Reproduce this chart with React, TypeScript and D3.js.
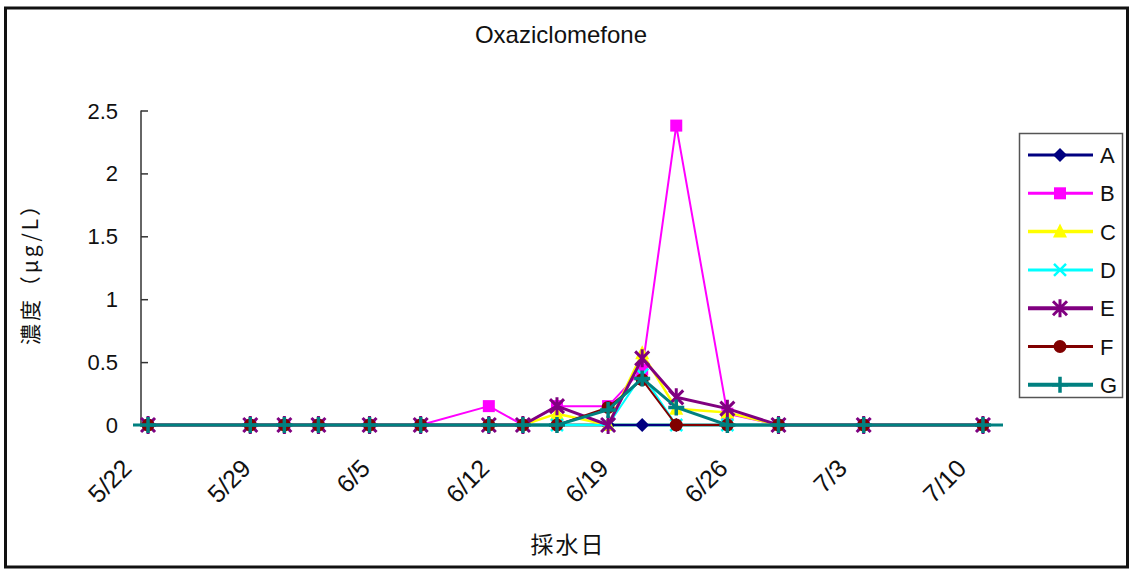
import { useEffect, useRef } from "react";
import * as d3 from "d3";

const dates = ["5/22", "5/28", "5/30", "6/1", "6/4", "6/7", "6/11", "6/13", "6/15", "6/18", "6/20", "6/22", "6/25", "6/28", "7/3", "7/10"];
const xTickLabels = ["5/22", "5/29", "6/5", "6/12", "6/19", "6/26", "7/3", "7/10"];
const yTicks = [0, 0.5, 1, 1.5, 2, 2.5];

const seriesA = [0, 0, 0, 0, 0, 0, 0, 0, 0, 0, 0, 0, 0, 0, 0, 0];
const seriesB = [0, 0, 0, 0, 0, 0, 0.15, 0, 0.15, 0.15, 0.44, 2.38, 0.09, 0, 0, 0];
const seriesC = [0, 0, 0, 0, 0, 0, 0, 0, 0.09, 0, 0.57, 0.13, 0.1, 0, 0, 0];
const seriesD = [0, 0, 0, 0, 0, 0, 0, 0, 0, 0, 0.4, 0, 0, 0, 0, 0];
const seriesE = [0, 0, 0, 0, 0, 0, 0, 0, 0.15, 0, 0.53, 0.22, 0.13, 0, 0, 0];
const seriesF = [0, 0, 0, 0, 0, 0, 0, 0, 0, 0.14, 0.36, 0, 0, 0, 0, 0];
const seriesG = [0, 0, 0, 0, 0, 0, 0, 0, 0, 0.12, 0.37, 0.14, 0, 0, 0, 0];

const seriesNames = ["A", "B", "C", "D", "E", "F", "G"];
const seriesValues = [seriesA, seriesB, seriesC, seriesD, seriesE, seriesF, seriesG];
const seriesColors = ["#000080", "#FF00FF", "#FFFF00", "#00FFFF", "#800080", "#800000", "#008080"];
const seriesWidths = [2, 2, 2.5, 2, 3, 2, 3];
const seriesMarkers = ["diamond", "square", "triangle", "x", "asterisk", "circle", "plus"];

const parseDate = (s: string) => {
  const [m, d] = s.split("/").map(Number);
  return new Date(2010, m - 1, d);
};

// draws one marker centred at (cx, cy)
function drawMarker(g: d3.Selection<SVGGElement, unknown, null, undefined>, kind: string, cx: number, cy: number, color: string) {
  if (kind === "diamond") {
    g.append("path").attr("d", `M${cx},${cy - 7}L${cx + 7},${cy}L${cx},${cy + 7}L${cx - 7},${cy}Z`).attr("fill", color);
  } else if (kind === "square") {
    g.append("rect").attr("x", cx - 6).attr("y", cy - 6).attr("width", 12).attr("height", 12).attr("fill", color);
  } else if (kind === "triangle") {
    g.append("path").attr("d", `M${cx},${cy - 8}L${cx + 7},${cy + 6}L${cx - 7},${cy + 6}Z`).attr("fill", color);
  } else if (kind === "circle") {
    g.append("circle").attr("cx", cx).attr("cy", cy).attr("r", 6.5).attr("fill", color);
  } else if (kind === "x") {
    g.append("path").attr("d", `M${cx - 6},${cy - 6}L${cx + 6},${cy + 6}M${cx - 6},${cy + 6}L${cx + 6},${cy - 6}`).attr("stroke", color).attr("stroke-width", 2.5);
  } else if (kind === "asterisk") {
    g.append("path")
      .attr("d", `M${cx - 7},${cy - 7}L${cx + 7},${cy + 7}M${cx - 7},${cy + 7}L${cx + 7},${cy - 7}M${cx},${cy - 9}L${cx},${cy + 9}`)
      .attr("stroke", color).attr("stroke-width", 3);
  } else if (kind === "plus") {
    g.append("path").attr("d", `M${cx - 8},${cy}L${cx + 8},${cy}M${cx},${cy - 8}L${cx},${cy + 8}`).attr("stroke", color).attr("stroke-width", 3.5);
  }
}

export default function App() {
  const svgRef = useRef<SVGSVGElement>(null);

  useEffect(() => {
    if (!svgRef.current) return;
    const svg = d3.select(svgRef.current);
    const width = 1132;
    const height = 570;
    svg.selectAll("*").remove();
    svg.attr("width", width).attr("height", height);

    const font = "'Liberation Sans', Arial, sans-serif";
    const cjk = "'Noto Sans CJK JP', sans-serif";

    svg.append("rect").attr("width", width).attr("height", height).attr("fill", "#fff");
    // outer frame
    svg.append("rect").attr("x", 5.5).attr("y", 8).attr("width", 1122).attr("height", 559)
      .attr("fill", "none").attr("stroke", "#111").attr("stroke-width", 3);

    const xScale = d3.scaleTime()
      .domain([parseDate("5/21"), parseDate("7/11")])
      .range([131, 1000]);
    const yScale = d3.scaleLinear().domain([0, 2.5]).range([425, 110.5]);
    const axisX = 141;

    // y axis
    const yAxis = svg.append("g")
      .attr("transform", `translate(${axisX},0)`)
      .call(d3.axisRight(yScale).tickValues(yTicks).tickSize(7).tickFormat(() => ""));
    yAxis.selectAll(".domain").attr("stroke", "#333").attr("stroke-width", 1.5).attr("d", `M0,${yScale(2.5)}V${yScale(0)}`);
    yAxis.selectAll(".tick line").attr("stroke", "#333").attr("stroke-width", 1.5);

    svg.append("g").selectAll("text").data(yTicks).enter().append("text")
      .attr("x", 118).attr("y", (d) => yScale(d) + 8)
      .attr("text-anchor", "end").attr("font-family", font).attr("font-size", 22).attr("fill", "#111")
      .text((d) => String(d));

    // x axis line
    svg.append("line").attr("x1", 133).attr("x2", 1003).attr("y1", yScale(0)).attr("y2", yScale(0))
      .attr("stroke", "#008080").attr("stroke-width", 3);

    svg.append("g").selectAll("text").data(xTickLabels).enter().append("text")
      .attr("transform", (d) => `translate(${xScale(parseDate(d)) - 15},${470}) rotate(-45)`)
      .attr("text-anchor", "end").attr("font-family", font).attr("font-size", 25).attr("fill", "#111")
      .text((d) => d);

    // series
    const line = d3.line<number>()
      .x((_, i) => xScale(parseDate(dates[i])))
      .y((d) => yScale(d));

    seriesValues.forEach((vals, si) => {
      const g = svg.append("g");
      g.append("path").attr("d", line(vals)).attr("fill", "none")
        .attr("stroke", seriesColors[si]).attr("stroke-width", seriesWidths[si]).attr("stroke-linejoin", "round");
      vals.forEach((v, i) => drawMarker(g, seriesMarkers[si], xScale(parseDate(dates[i])), yScale(v), seriesColors[si]));
    });

    // title
    svg.append("text").attr("x", 561).attr("y", 43).attr("text-anchor", "middle")
      .attr("font-family", font).attr("font-size", 24).attr("fill", "#111").text("Oxaziclomefone");

    // axis titles
    svg.append("text").attr("transform", `translate(38,270) rotate(-90)`).attr("text-anchor", "middle")
      .attr("font-family", cjk).attr("font-size", 21).attr("textLength", 150).attr("lengthAdjust", "spacing")
      .attr("fill", "#111").text("濃度（μg/L）");
    svg.append("text").attr("x", 568).attr("y", 553).attr("text-anchor", "middle")
      .attr("font-family", cjk).attr("font-size", 23).attr("letter-spacing", 2).attr("fill", "#111").text("採水日");

    // legend
    const legend = svg.append("g");
    legend.append("rect").attr("x", 1019.5).attr("y", 133.5).attr("width", 103).attr("height", 264)
      .attr("fill", "#fff").attr("stroke", "#555").attr("stroke-width", 1.5);
    seriesNames.forEach((name, si) => {
      const cy = 155 + si * 38.3;
      const lg = legend.append("g");
      lg.append("line").attr("x1", 1028).attr("x2", 1093).attr("y1", cy).attr("y2", cy)
        .attr("stroke", seriesColors[si]).attr("stroke-width", seriesWidths[si] + 1);
      drawMarker(lg, seriesMarkers[si], 1060, cy, seriesColors[si]);
      lg.append("text").attr("x", 1100).attr("y", cy + 8).attr("font-family", font).attr("font-size", 22)
        .attr("fill", "#111").text(name);
    });
  }, []);

  return <svg ref={svgRef} style={{ position: "absolute", left: 0, top: 0 }}></svg>;
}
